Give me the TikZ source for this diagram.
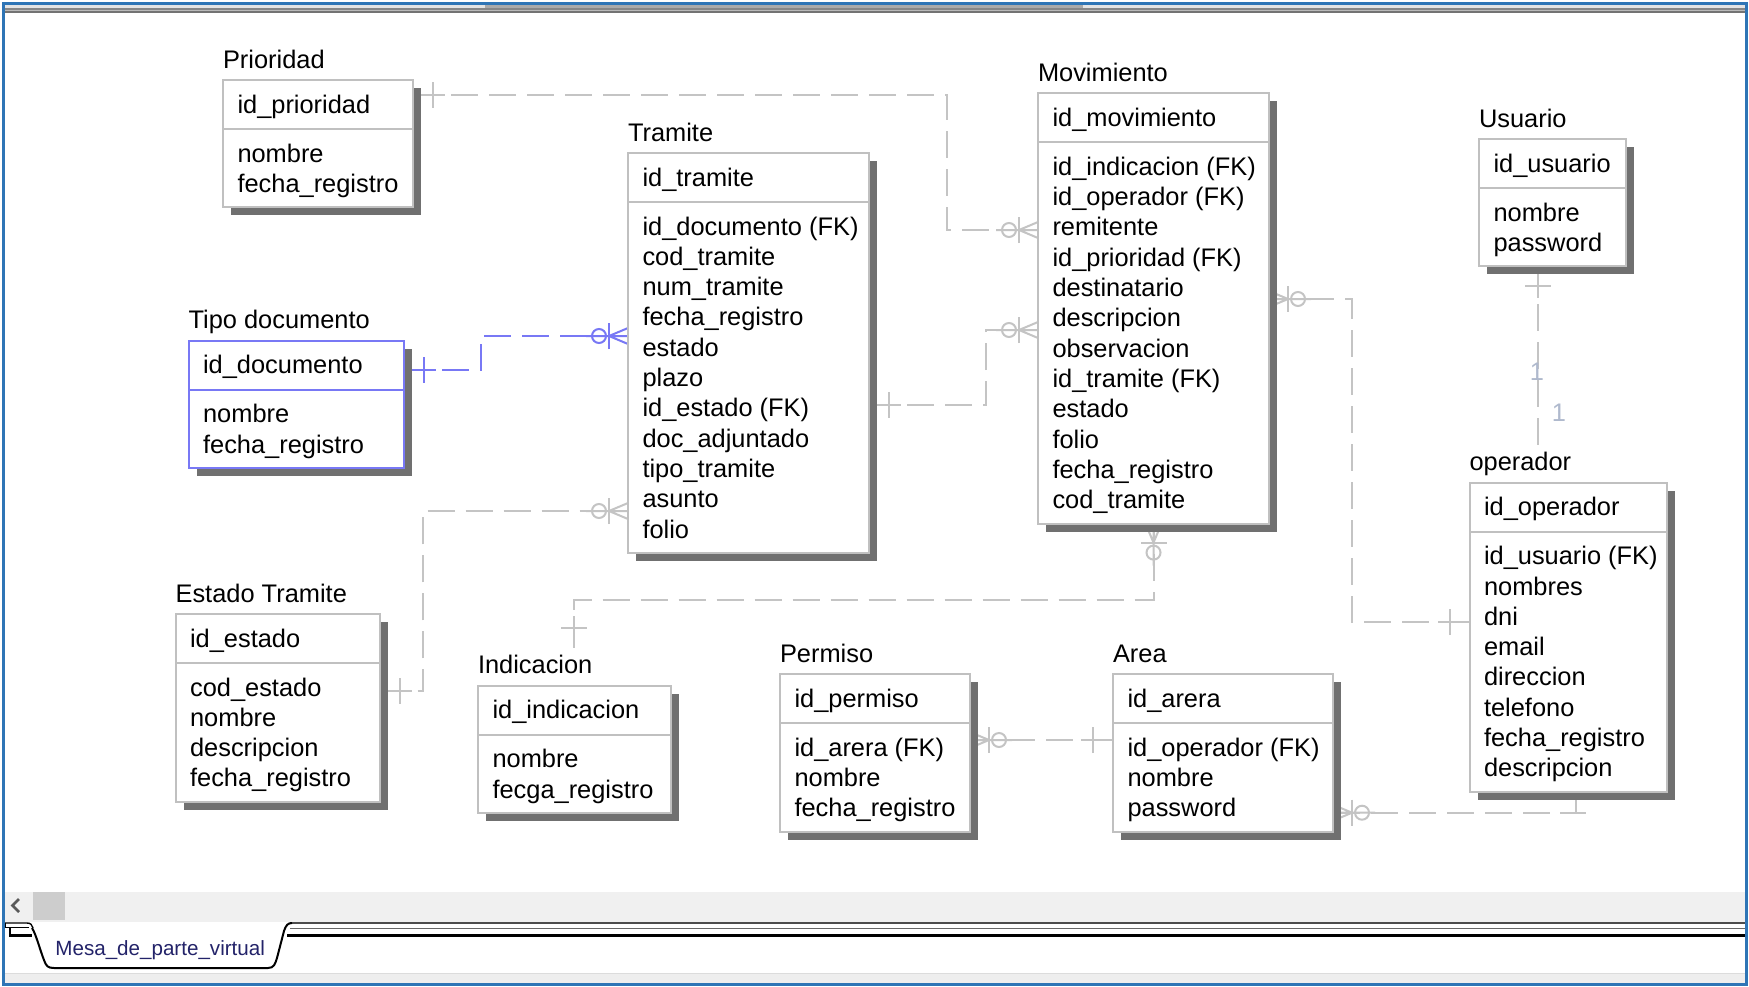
\documentclass[tikz,border=0pt]{standalone}
\usepackage{fontspec}
\setmainfont{Liberation Sans}
\usetikzlibrary{calc}
\pgfdeclarelayer{back}
\pgfdeclarelayer{bg}
\pgfsetlayers{back,bg,main}
\definecolor{boxc}{RGB}{192,192,192}
\definecolor{linec}{RGB}{196,196,196}
\definecolor{shadc}{RGB}{112,112,112}
\definecolor{bluec}{RGB}{120,120,245}
\definecolor{framec}{RGB}{46,117,182}
\definecolor{onec}{RGB}{175,185,205}
\definecolor{tabtxt}{RGB}{35,35,105}
\definecolor{scrollc}{RGB}{240,240,240}
\definecolor{thumbc}{RGB}{205,205,205}
\definecolor{topa}{RGB}{228,228,228}
\definecolor{topb}{RGB}{170,170,170}
\definecolor{topc}{RGB}{135,135,135}
\definecolor{topd}{RGB}{185,185,185}
\definecolor{tope}{RGB}{115,115,115}
\definecolor{botc}{RGB}{238,238,238}
\definecolor{botl}{RGB}{220,220,220}
\tikzset{
  tbox/.style={line width=1pt, fill=white, inner sep=0pt, outer sep=0pt, rectangle, anchor=north west},
  txt/.style={anchor=base west, inner sep=0pt, outer sep=0pt, text=black},
  conn/.style={line width=1pt, draw=linec},
  dconn/.style={conn, dash pattern=on 13.5pt off 5.5pt},
  lbl/.style={inner sep=0pt, outer sep=0pt, text=onec}
}
% id, l, t, r, nattrs, title, pk, attrs, colour
\newcommand\entity[9]{%
  \pgfmathsetmacro\entB{#3+82+(#5-1)*30.3+15}%
  \pgfmathsetmacro\entW{(#4-#2)*0.5}%
  \pgfmathsetmacro\entH{(\entB-#3)*0.5}%
  \fill[shadc] (#2+8,#3+8) rectangle (#4+8,\entB+8);
  \node[tbox, draw=#9, minimum width=\entW pt, minimum height=\entH pt] (#1) at (#2,#3) {};
  \draw[draw=#9, line width=1pt] (#2,#3+49) -- (#4,#3+49);
  \node[txt] (#1-t) at (#2,#3-12) {#6};
  \node[txt] (#1-k) at (#2+14.5,#3+33) {#7};
  \foreach \a [count=\i from 0] in {#8} {\node[txt] (#1-a\i) at (#2+14.5,#3+82+\i*30.3) {\a};}
}
\newcommand\onemark[3]{%
  \begin{scope}[shift={(#1)}, rotate=#2]
    \draw[conn, draw=#3] (0,0) -- (32,0);
    \draw[conn, draw=#3] (20,-13) -- (20,13);
  \end{scope}}
\newcommand\manymark[3]{%
  \begin{scope}[shift={(#1)}, rotate=#2]
    \draw[conn, draw=#3] (0,-8) -- (19,0) -- (0,8) (0,0) -- (42,0);
    \draw[conn, draw=#3] (19,-13) -- (19,13);
    \draw[conn, draw=#3] (29,0) circle [radius=7];
  \end{scope}}
\begin{document}
\begin{tikzpicture}[x=0.5pt,y=-0.5pt, font=\fontsize{12.7}{15}\selectfont]
\useasboundingbox (0,0) rectangle (1749,986);
\begin{pgfonlayer}{back}
\fill[white] (0,0) rectangle (1749,986);
\end{pgfonlayer}

\entity{prio}{223}{80}{413}{2}{Prioridad}{id\_prioridad}{nombre,fecha\_registro}{boxc}
\entity{tram}{628}{153}{869}{11}{Tramite}{id\_tramite}{id\_documento (FK),cod\_tramite,num\_tramite,fecha\_registro,estado,plazo,id\_estado (FK),doc\_adjuntado,tipo\_tramite,asunto,folio}{boxc}
\entity{mov}{1038}{93.3}{1269}{12}{Movimiento}{id\_movimiento}{id\_indicacion (FK),id\_operador (FK),remitente,id\_prioridad (FK),destinatario,descripcion,observacion,id\_tramite (FK),estado,folio,fecha\_registro,cod\_tramite}{boxc}
\entity{usu}{1479}{139}{1626}{2}{Usuario}{id\_usuario}{nombre,password}{boxc}
\entity{tipo}{188.6}{340.7}{404}{2}{Tipo documento}{id\_documento}{nombre,fecha\_registro}{bluec}
\entity{est}{175.6}{614}{379.6}{4}{Estado Tramite}{id\_estado}{cod\_estado,nombre,descripcion,fecha\_registro}{boxc}
\entity{ind}{478}{685.7}{670.5}{2}{Indicacion}{id\_indicacion}{nombre,fecga\_registro}{boxc}
\entity{perm}{780}{674.3}{970}{3}{Permiso}{id\_permiso}{id\_arera (FK),nombre,fecha\_registro}{boxc}
\entity{area}{1113}{674.3}{1333}{3}{Area}{id\_arera}{id\_operador (FK),nombre,password}{boxc}
\entity{oper}{1469.5}{482.7}{1666.7}{8}{operador}{id\_operador}{id\_usuario (FK),nombres,dni,email,direccion,telefono,fecha\_registro,descripcion}{boxc}

\begin{pgfonlayer}{bg}
% Prioridad - Movimiento
\coordinate (c1a) at (prio.east |- 0,95);
\coordinate (c1b) at (mov.west |- 0,230);
\draw[dconn] (c1a) -- (947,95) -- (947,230) -- (c1b);
\onemark{c1a}{0}{linec}
\manymark{c1b}{180}{linec}
% Tipo documento - Tramite
\coordinate (c2a) at (tipo.east |- 0,370);
\coordinate (c2b) at (tram.west |- 0,336);
\draw[dconn, draw=bluec] (c2a) -- (481,370) -- (481,336) -- (c2b);
\onemark{c2a}{0}{bluec}
\manymark{c2b}{180}{bluec}
% Estado - Tramite
\coordinate (c3a) at (est.east |- 0,691);
\coordinate (c3b) at (tram.west |- 0,511);
\draw[dconn] (c3a) -- (423,691) -- (423,511) -- (c3b);
\onemark{c3a}{0}{linec}
\manymark{c3b}{180}{linec}
% Tramite - Movimiento
\coordinate (c4a) at (tram.east |- 0,405);
\coordinate (c4b) at (mov.west |- 0,330);
\draw[dconn] (c4a) -- (986,405) -- (986,330) -- (c4b);
\onemark{c4a}{0}{linec}
\manymark{c4b}{180}{linec}
% Indicacion - Movimiento
\coordinate (c5a) at ($(ind.north)+(0,-38)$);
\coordinate (c5b) at (mov.south);
\draw[dconn] (c5a) -- (c5a |- 0,600) -- (c5b |- 0,600) -- (c5b);
\onemark{c5a}{90}{linec}
\manymark{c5b}{-90}{linec}
% Movimiento - operador
\coordinate (c6a) at (mov.east |- 0,299);
\coordinate (c6b) at (oper.west |- 0,622);
\draw[dconn] (c6a) -- (1352,299) -- (1352,622) -- (c6b);
\manymark{c6a}{0}{linec}
\onemark{c6b}{180}{linec}
% Usuario - operador
\coordinate (c7a) at (usu.south -| 1537.7,0);
\coordinate (c7b) at (1537.7,448);
\draw[dconn] (c7a) -- (c7b);
\onemark{c7a}{-90}{linec}
% Permiso - Area
\coordinate (c8a) at (perm.east |- 0,740);
\coordinate (c8b) at (area.west |- 0,740);
\draw[dconn] (c8a) -- (c8b);
\manymark{c8a}{0}{linec}
\onemark{c8b}{180}{linec}
% Area - operador
\coordinate (c9a) at (area.east |- 0,812.7);
\coordinate (c9b) at (oper.south -| 1576,0);
\draw[dconn] (c9a) -- (c9b |- c9a);
\draw[conn] (c9b) -- (c9b |- c9a);
\draw[conn] (1560,812.7) -- (1586,812.7);
\manymark{c9a}{0}{linec}
\end{pgfonlayer}
\node[lbl] (one1) at (1537,372) {1};
\node[lbl] (one2) at (1559,413) {1};

% window frame
\fill[topa] (4,4.5) rectangle (1745.5,7.5);
\fill[topb] (485,4.5) rectangle (1083,7.5);
\fill[topc] (4,8) rectangle (1745.5,10);
\fill[topd] (4,10) rectangle (1745.5,11);
\fill[tope] (4,11) rectangle (1745.5,13);
% scrollbar
\fill[scrollc] (4.5,892) rectangle (1745.5,922);
\fill[thumbc] (33,892) rectangle (64.5,920);
\draw[black!65, line width=1.3pt] (19,899) -- (12.5,905.5) -- (19,912);
% tab strip
\draw[black!70, line width=0.7pt] (290,923) -- (1745.5,923);
\draw[black!60, line width=0.7pt] (290,928.5) -- (1745.5,928.5);
\draw[black, line width=1.5pt] (287,935.7) -- (1745.5,935.7);
\draw[black, line width=0.7pt] (5,923) -- (27,923) .. controls (31,923) and (32,925) .. (33,928);
\draw[black, line width=0.7pt] (5,923) -- (5,927.5) -- (29,927.5);
\draw[black, line width=1.2pt] (10,928) -- (10,935.5) -- (32,935.5);
\draw[black, line width=1pt] (32,928) .. controls (36,934) and (40,950) .. (44,960) .. controls (46,966) and (48,968) .. (54,968) -- (268,968) .. controls (274,968) and (275,964) .. (277,958) -- (284,931) .. controls (286,925) and (288,923) .. (292,923);
\node[anchor=base west, inner sep=0pt, text=tabtxt, font=\fontsize{10.3}{12}\selectfont] (tab) at (55,955) {Mesa\_de\_parte\_virtual};
% bottom band
\fill[botc] (4.5,973) rectangle (1745.5,983);
\draw[botl, line width=0.6pt] (4.5,973.5) -- (1745.5,973.5);
% outer blue border
\draw[framec, line width=1.6pt] (3.2,3.2) rectangle (1746.8,984.5);
\end{tikzpicture}
\end{document}
